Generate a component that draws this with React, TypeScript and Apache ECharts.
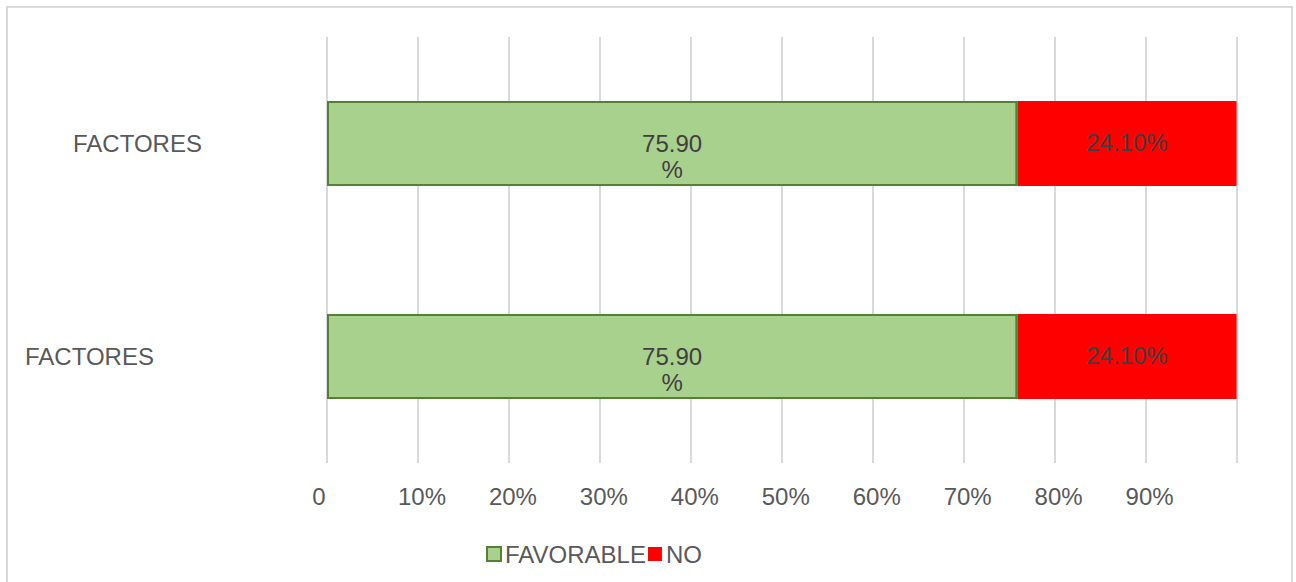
import React, { useEffect, useRef } from "react";
import * as echarts from "echarts";

const categories = ["FACTORES", "FACTORES"];
const favorable = [75.9, 75.9];
const no = [24.1, 24.1];
const xTicks = [0, 10, 20, 30, 40, 50, 60, 70, 80, 90, 100];

const FONT = "'Liberation Sans', Arial, sans-serif";
const FS = 24;

export default function App() {
  const ref = useRef<HTMLDivElement>(null);
  useEffect(() => {
    if (!ref.current) return;
    const chart = echarts.init(ref.current, undefined, { renderer: "svg" });
    chart.setOption({
      animation: false,
      textStyle: { fontFamily: FONT },
      grid: { left: 327, right: 59.5, top: 37, height: 426, containLabel: false },
      graphic: [
        {
          type: "rect",
          shape: { x: 7, y: 7, width: 1285, height: 620 },
          style: { fill: "none", stroke: "#d9d9d9", lineWidth: 2 },
          silent: true,
        },
      ],
      legend: {
        left: 481,
        top: 537,
        itemWidth: 14,
        itemHeight: 14,
        itemGap: 2,
        textStyle: { fontSize: FS, color: "#595959", fontFamily: FONT, padding: [0, 0, 0, -1] },
        data: [
          { name: "FAVORABLE", icon: "rect" },
          { name: "NO", icon: "rect" },
        ],
      },
      xAxis: {
        type: "value",
        min: xTicks[0],
        max: xTicks[xTicks.length - 1],
        interval: 10,
        axisLine: { show: false },
        axisTick: { show: false },
        splitLine: { show: true, lineStyle: { color: "#d9d9d9", width: 2 } },
        axisLabel: {
          margin: 21,
          fontSize: FS,
          color: "#595959",
          fontFamily: FONT,
          formatter: (v: number) => (v === 100 ? "" : v === 0 ? "{z|0}" : `{p|${v}%}`),
          rich: {
            z: { fontSize: FS, color: "#595959", fontFamily: FONT, padding: [0, 16, 0, 0] },
            p: { fontSize: FS, color: "#595959", fontFamily: FONT, padding: [0, 0, 0, 8] },
          },
        },
      },
      yAxis: {
        type: "category",
        data: categories,
        axisLine: { show: false },
        axisTick: { show: false },
        splitLine: { show: false },
        axisLabel: {
          align: "left",
          margin: 302,
          fontSize: FS,
          color: "#595959",
          fontFamily: FONT,
          formatter: (v: string, i: number) => (i === 1 ? `{t|${v}}` : `{b|${v}}`),
          rich: {
            t: { fontSize: FS, color: "#595959", fontFamily: FONT, padding: [0, 0, 0, 48] },
            b: { fontSize: FS, color: "#595959", fontFamily: FONT },
          },
        },
      },
      series: [
        {
          name: "FAVORABLE",
          type: "bar",
          stack: "total",
          barWidth: "40%",
          data: favorable,
          itemStyle: { color: "#a9d18e", borderColor: "#548235", borderWidth: 2 },
          label: {
            show: true,
            position: "inside",
            offset: [0, 13],
            fontSize: FS,
            lineHeight: 26,
            color: "#404040",
            fontFamily: FONT,
            formatter: (p: any) => `${Number(p.value).toFixed(2)}\n%`,
          },
        },
        {
          name: "NO",
          type: "bar",
          stack: "total",
          barWidth: "40%",
          data: no,
          itemStyle: { color: "#ff0000" },
          label: {
            show: true,
            position: "inside",
            offset: [0, -1],
            fontSize: FS,
            color: "#404040",
            fontFamily: FONT,
            formatter: (p: any) => `${Number(p.value).toFixed(2)}%`,
          },
        },
      ],
    });
    return () => chart.dispose();
  }, []);
  return (
    <div
      ref={ref}
      style={{ position: "fixed", left: 0, top: 0, width: 1296, height: 582, background: "#fff" }}
    />
  );
}
